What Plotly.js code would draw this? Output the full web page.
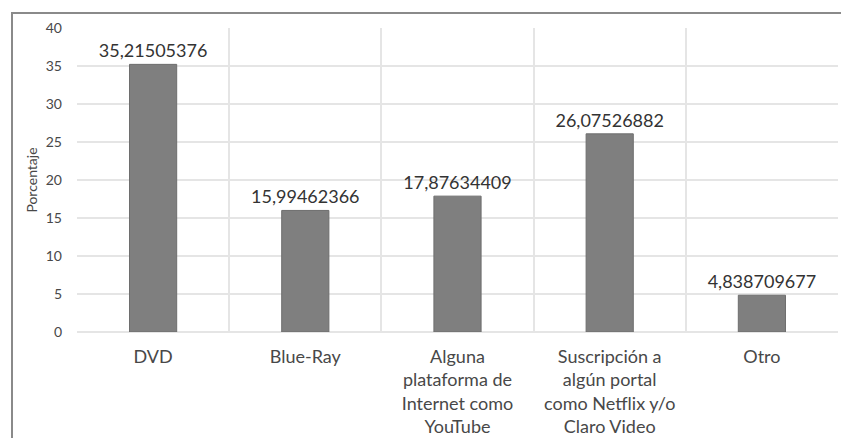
<!DOCTYPE html>
<html>
<head>
<meta charset="utf-8">
<script src="https://cdn.plot.ly/plotly-3.0.1.min.js"></script>
<style>
  html, body { margin: 0; padding: 0; background: #ffffff; }
  #wrap { position: relative; width: 841px; height: 438px; overflow: hidden; }
  #chart { position: absolute; left: 0; top: 0; width: 841px; height: 438px; }
  #frame { position: absolute; left: 11px; top: 12px; width: 840px; height: 440px;
           border-left: 2px solid #8a8a8a; border-top: 2px solid #8a8a8a; pointer-events: none; }
</style>
</head>
<body>
<div id="wrap">
  <div id="chart"></div>
  <div id="frame"></div>
</div>
<script>
// Medio usado para ver películas (porcentaje de respuestas)
const categories = [
  'DVD',
  'Blue-Ray',
  'Alguna<br>plataforma de<br>Internet como<br>YouTube',
  'Suscripción a<br>algún portal<br>como Netflix y/o<br>Claro Video',
  'Otro'
];
const percentages = [35.21505376, 15.99462366, 17.87634409, 26.07526882, 4.838709677];
const yTicks = [0, 5, 10, 15, 20, 25, 30, 35, 40];

// Value labels use a decimal comma, taken from the same numbers as the bars
const valueLabels = percentages.map(v => String(v).replace('.', ','));

const fontFamily = 'Lato, "Open Sans", "Noto Sans", sans-serif';

const trace = {
  type: 'bar',
  x: categories,
  y: percentages,
  text: valueLabels,
  textposition: 'outside',
  constraintext: 'none',
  cliponaxis: false,
  textfont: { family: fontFamily, size: 18, color: '#333333' },
  marker: { color: '#7f7f7f', line: { color: '#6e6e6e', width: 1 } },
  width: 0.31,
  hoverinfo: 'skip'
};

const layout = {
  width: 841,
  height: 438,
  margin: { l: 77, r: 3, t: 28, b: 106, pad: 0 },
  paper_bgcolor: '#ffffff',
  plot_bgcolor: '#ffffff',
  showlegend: false,
  font: { family: fontFamily, color: '#444444' },
  xaxis: {
    type: 'category',
    tickson: 'boundaries',
    showgrid: true,
    gridcolor: '#e5e5e5',
    gridwidth: 2,
    showline: false,
    ticks: '',
    ticklabelstandoff: 12,
    tickfont: { family: fontFamily, size: 18, color: '#484848' },
    fixedrange: true
  },
  yaxis: {
    range: [0, 40],
    tickvals: yTicks,
    ticktext: yTicks.map(String),
    showgrid: true,
    gridcolor: '#e5e5e5',
    gridwidth: 2,
    zeroline: true,
    zerolinecolor: '#e5e5e5',
    zerolinewidth: 2,
    showline: false,
    ticks: '',
    ticklabelstandoff: 14,
    tickfont: { family: fontFamily, size: 14, color: '#484848' },
    title: { text: 'Porcentaje', font: { family: fontFamily, size: 14, color: '#484848' }, standoff: 4 },
    fixedrange: true
  }
};

Plotly.newPlot('chart', [trace], layout, { displayModeBar: false, staticPlot: true });
</script>
</body>
</html>
